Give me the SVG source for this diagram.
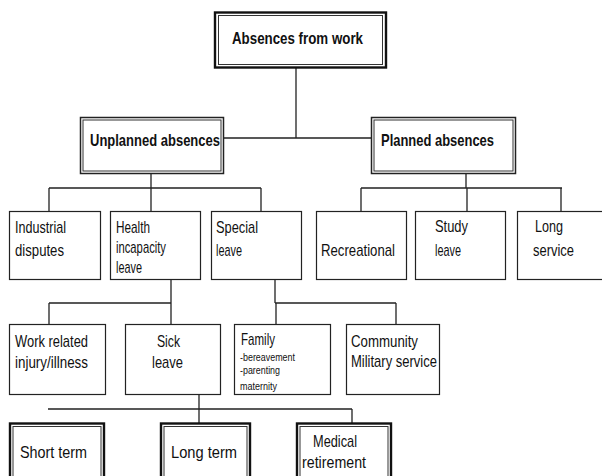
<svg xmlns="http://www.w3.org/2000/svg" width="602" height="476" viewBox="0 0 602 476">
<style>
.bg{fill:#fff}
.box{fill:#fff;stroke:#222;stroke-width:1.2}
.outer{fill:#fff;stroke:#111;stroke-width:2.4}
.outer2{fill:#fff;stroke:#222;stroke-width:1.5}
.inner{fill:none;stroke:#333;stroke-width:1}
.t{font-family:"Liberation Sans Narrow","Liberation Sans",Arial,sans-serif;font-size:17px;fill:#111}
.b{font-weight:bold;font-size:16.5px}
.s{font-size:11px}
.c{fill:none;stroke:#222;stroke-width:1.3}
</style>
<rect class="bg" x="0" y="0" width="602" height="476"/>
<g id="connectors">
<path class="c" d="M296 68V138M224 138H371M151 174V188M49 188H261M49 188V211M151 188V211M261 188V211M466 174V188M361 188H562M361 188V211M467 188V211M561 188V211M171 280V324M49 303H171M49 303V324M275 280V303M275 303H396M276 303V324M396 303V324M199 392V423M48 409H352M352 409V423"/>
</g>
<g id="absences">
<rect class="outer" x="215" y="12.5" width="171" height="55"/>
<rect class="inner" x="218.5" y="15.5" width="164" height="49"/>
<text class="t b" x="232" y="44" textLength="131" lengthAdjust="spacingAndGlyphs">Absences from work</text>
</g>
<g id="unplanned">
<rect class="outer2" x="80.5" y="117.5" width="143" height="56"/>
<rect class="inner" x="83" y="120" width="138" height="51"/>
<text class="t b" x="90" y="146" textLength="130" lengthAdjust="spacingAndGlyphs">Unplanned absences</text>
</g>
<g id="planned">
<rect class="outer2" x="371.5" y="117.5" width="144" height="56"/>
<rect class="inner" x="374" y="120" width="139" height="51"/>
<text class="t b" x="381" y="146" textLength="113" lengthAdjust="spacingAndGlyphs">Planned absences</text>
</g>
<g id="industrial">
<rect class="box" x="9.5" y="211.5" width="91" height="68"/>
<text class="t" x="15" y="233" textLength="51" lengthAdjust="spacingAndGlyphs">Industrial</text>
<text class="t" x="15" y="256" textLength="49" lengthAdjust="spacingAndGlyphs">disputes</text>
</g>
<g id="health">
<rect class="box" x="110.5" y="211.5" width="90" height="68"/>
<text class="t" x="116" y="233" textLength="34" lengthAdjust="spacingAndGlyphs">Health</text>
<text class="t" x="116" y="253" textLength="50" lengthAdjust="spacingAndGlyphs">incapacity</text>
<text class="t" x="116" y="273" textLength="26" lengthAdjust="spacingAndGlyphs">leave</text>
</g>
<g id="special">
<rect class="box" x="211.5" y="211.5" width="90" height="68"/>
<text class="t" x="216" y="233" textLength="42" lengthAdjust="spacingAndGlyphs">Special</text>
<text class="t" x="216" y="256" textLength="26" lengthAdjust="spacingAndGlyphs">leave</text>
</g>
<g id="recreational">
<rect class="box" x="316.5" y="211.5" width="90" height="68"/>
<text class="t" x="321" y="256" textLength="74" lengthAdjust="spacingAndGlyphs">Recreational</text>
</g>
<g id="study">
<rect class="box" x="415.5" y="211.5" width="90" height="68"/>
<text class="t" x="435" y="232" textLength="33" lengthAdjust="spacingAndGlyphs">Study</text>
<text class="t" x="435" y="256" textLength="26" lengthAdjust="spacingAndGlyphs">leave</text>
</g>
<g id="longservice">
<rect class="box" x="517.5" y="211.5" width="92" height="68"/>
<text class="t" x="535" y="232" textLength="28" lengthAdjust="spacingAndGlyphs">Long</text>
<text class="t" x="533" y="256" textLength="41" lengthAdjust="spacingAndGlyphs">service</text>
</g>
<g id="workrelated">
<rect class="box" x="9.5" y="324.5" width="96" height="70"/>
<text class="t" x="15" y="347" textLength="73" lengthAdjust="spacingAndGlyphs">Work related</text>
<text class="t" x="15" y="368" textLength="73" lengthAdjust="spacingAndGlyphs">injury/illness</text>
</g>
<g id="sick">
<rect class="box" x="125.5" y="324.5" width="95" height="70"/>
<text class="t" x="157" y="347" textLength="23" lengthAdjust="spacingAndGlyphs">Sick</text>
<text class="t" x="152" y="368" textLength="31" lengthAdjust="spacingAndGlyphs">leave</text>
</g>
<g id="family">
<rect class="box" x="234.5" y="324.5" width="96" height="70"/>
<text class="t" x="241" y="345" textLength="34" lengthAdjust="spacingAndGlyphs">Family</text>
<text class="t s" x="240" y="361" textLength="55" lengthAdjust="spacingAndGlyphs">-bereavement</text>
<text class="t s" x="240" y="374" textLength="40" lengthAdjust="spacingAndGlyphs">-parenting</text>
<text class="t s" x="240" y="390" textLength="37" lengthAdjust="spacingAndGlyphs">maternity</text>
</g>
<g id="community">
<rect class="box" x="346.5" y="324.5" width="93" height="70"/>
<text class="t" x="351" y="347" textLength="67" lengthAdjust="spacingAndGlyphs">Community</text>
<text class="t" x="351" y="367" textLength="86" lengthAdjust="spacingAndGlyphs">Military service</text>
</g>
<g id="shortterm">
<rect class="outer" x="10" y="423.5" width="94" height="60"/>
<rect class="inner" x="13" y="426.5" width="88" height="60"/>
<text class="t" x="20" y="458" textLength="67" lengthAdjust="spacingAndGlyphs">Short term</text>
</g>
<g id="longterm">
<rect class="outer" x="161" y="423.5" width="89" height="60"/>
<rect class="inner" x="164" y="426.5" width="83" height="60"/>
<text class="t" x="171" y="458" textLength="66" lengthAdjust="spacingAndGlyphs">Long term</text>
</g>
<g id="medical">
<rect class="outer" x="297" y="423.5" width="94" height="60"/>
<rect class="inner" x="300" y="426.5" width="88" height="60"/>
<text class="t" x="313" y="447" textLength="44" lengthAdjust="spacingAndGlyphs">Medical</text>
<text class="t" x="302" y="468" textLength="64" lengthAdjust="spacingAndGlyphs">retirement</text>
</g>
</svg>
